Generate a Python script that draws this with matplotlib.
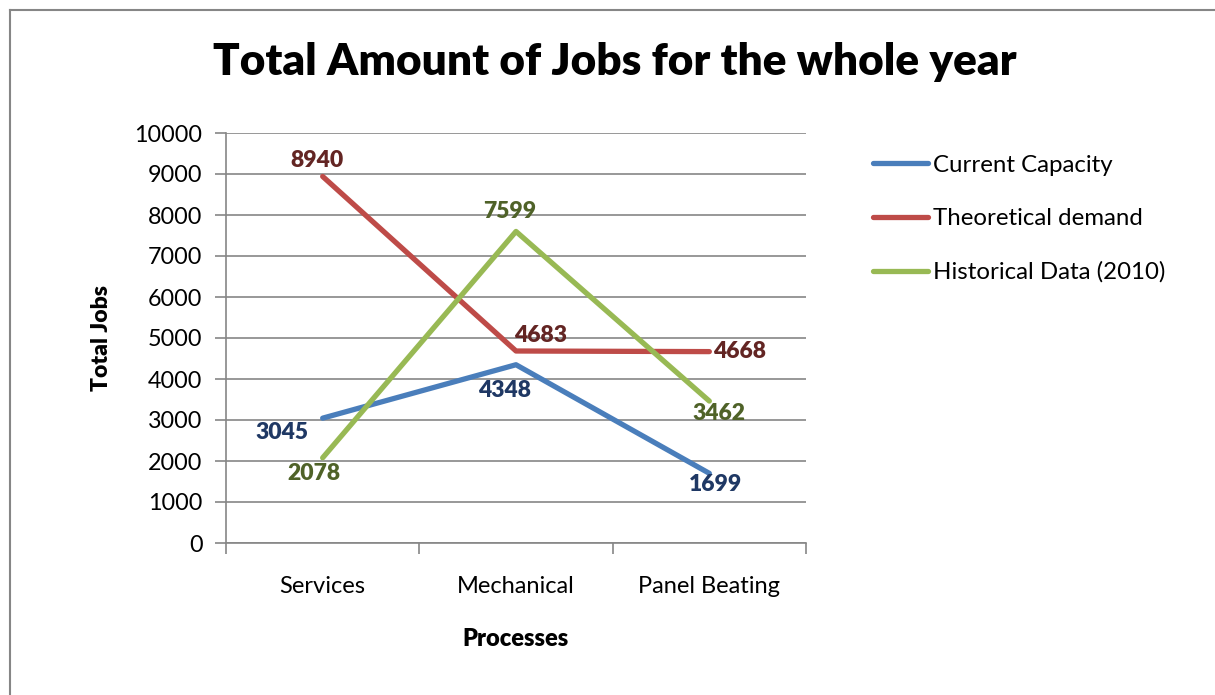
import matplotlib
matplotlib.use("Agg")
import matplotlib.pyplot as plt
from matplotlib.lines import Line2D

plt.rcParams['font.family'] = ['Lato', 'DejaVu Sans']

categories = ["Services", "Mechanical", "Panel Beating"]
series_names = ["Current Capacity", "Theoretical demand", "Historical Data (2010)"]
current_capacity = [3045, 4348, 1699]
theoretical_demand = [8940, 4683, 4668]
historical_data = [2078, 7599, 3462]
y_ticks = [0, 1000, 2000, 3000, 4000, 5000, 6000, 7000, 8000, 9000, 10000]

line_colors = ["#4A7EBB", "#BE4B48", "#98B954"]
label_colors = ["#1F3864", "#632523", "#4F6228"]
# label offsets in pixels (dx, dy) per point
offsets = [
    [(-41, -14), (-11, -26), (6, -11)],
    [(-6, 16), (25, 15), (30, 0)],
    [(-9, -16), (-6, 20), (10, -12)],
]

W, H = 1215, 695
fig = plt.figure(figsize=(W / 100, H / 100), dpi=100)
fig.patch.set_facecolor("white")

# outer border
fig.add_artist(Line2D([10 / W, 10 / W], [0, 1 - 10 / H], color="#868686", lw=1.5, transform=fig.transFigure))
fig.add_artist(Line2D([10 / W, 1], [1 - 10 / H, 1 - 10 / H], color="#868686", lw=1.5, transform=fig.transFigure))

ax = fig.add_axes([226 / W, 1 - 543 / H, (806 - 226) / W, (543 - 133) / H])
x = [i + 0.5 for i in range(len(categories))]
data = [current_capacity, theoretical_demand, historical_data]
for vals, name, lc, tc, offs in zip(data, series_names, line_colors, label_colors, offsets):
    ax.plot(x, vals, color=lc, lw=3.8, label=name, solid_capstyle="round", zorder=3)
    for xi, v, (dx, dy) in zip(x, vals, offs):
        ax.annotate(str(v), (xi, v), xytext=(dx, dy), textcoords="offset pixels",
                    ha="center", va="center", color=tc, fontsize=16.5, fontweight="heavy", zorder=4)

ax.set_xlim(0, 3)
ax.set_ylim(0, 10000)
ax.set_yticks(y_ticks)
ax.set_yticklabels([str(t) for t in y_ticks])
ax.set_xticks([0, 1, 2, 3])
ax.set_xticklabels([])
ax.set_xticks(x, minor=True)
ax.set_xticklabels(categories, minor=True)
ax.tick_params(axis="x", which="minor", length=0, pad=24, labelsize=17)
ax.tick_params(axis="x", which="major", length=8, color="#868686", width=1.2, direction="out")
ax.tick_params(axis="y", length=8, color="#868686", width=1.2, direction="out", pad=9, labelsize=16.8)
ax.grid(axis="y", color="#868686", lw=1.2, zorder=0)
ax.set_axisbelow(True)
for s in ["top", "right"]:
    ax.spines[s].set_visible(False)
for s in ["left", "bottom"]:
    ax.spines[s].set_color("#868686")
    ax.spines[s].set_linewidth(1.2)

ax.set_xlabel("Processes", fontsize=17, fontweight="heavy", labelpad=22)
ax.set_ylabel("Total Jobs", fontsize=16.5, fontweight="heavy", labelpad=16)

fig.text(615 / W, 1 - 62 / H, "Total Amount of Jobs for the whole year", ha="center", va="center",
         fontsize=31.8, fontweight="heavy")

leg = fig.legend(loc="upper left", bbox_to_anchor=(851 / W, 1 - 133 / H), frameon=False,
                 fontsize=17.3, handlelength=2.3, handletextpad=0.2, labelspacing=1.35)

fig.savefig("out.png", dpi=100)
